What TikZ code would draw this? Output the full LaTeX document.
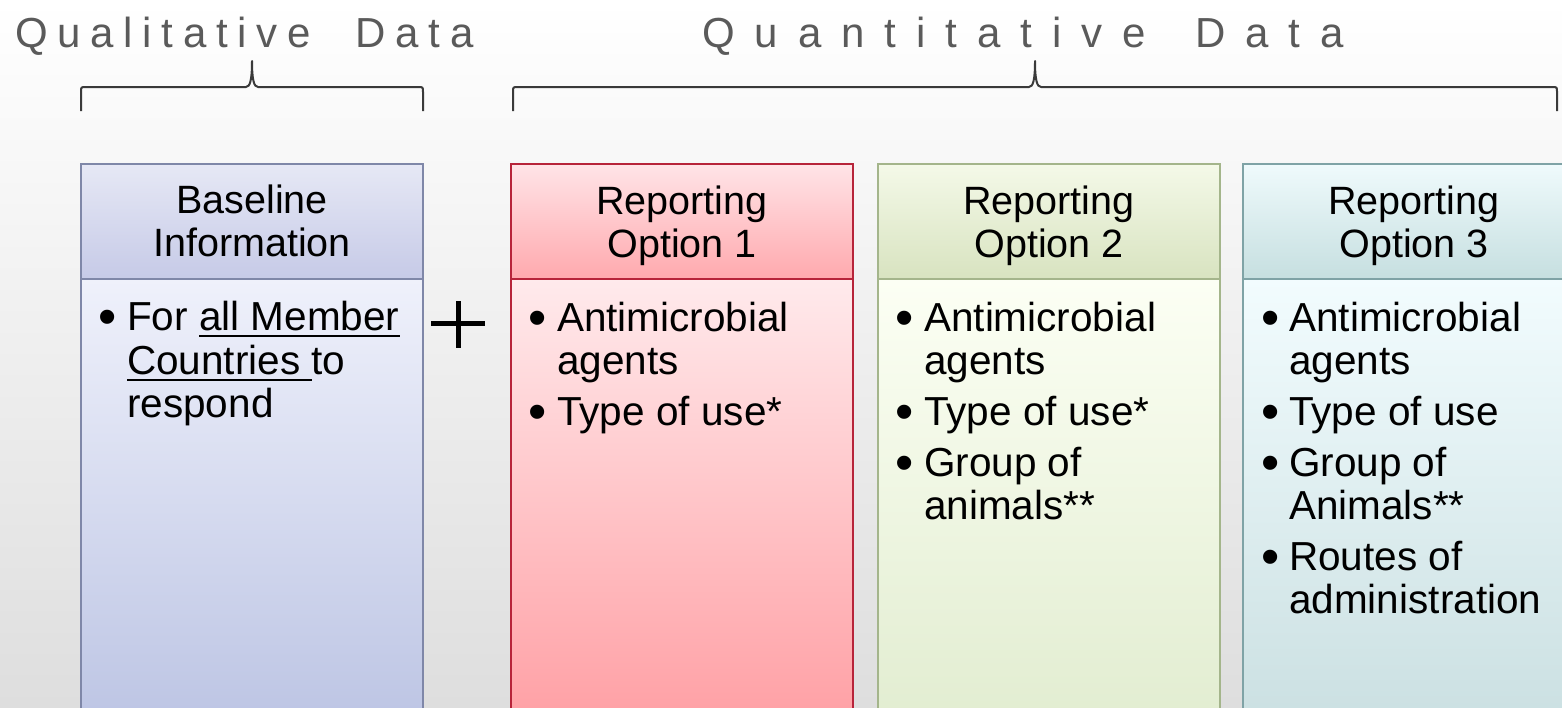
\documentclass[tikz,border=0pt]{standalone}
\usepackage{fontspec}
\setmainfont{Liberation Sans}
\definecolor{bgbot}{HTML}{DEDEDE}
\definecolor{titlegray}{HTML}{5A5A5A}
\definecolor{bracegray}{HTML}{3A3A3A}
\definecolor{aTop}{HTML}{E6E8F5}\definecolor{aBot}{HTML}{C6CAE7}
\definecolor{aBTop}{HTML}{EFF1FB}\definecolor{aBBot}{HTML}{BDC5E4}
\definecolor{aLine}{HTML}{7F87A8}
\definecolor{bTop}{HTML}{FFE4E7}\definecolor{bBot}{HTML}{FFA9AE}
\definecolor{bBTop}{HTML}{FFEAEC}\definecolor{bBBot}{HTML}{FFA0A5}
\definecolor{bLine}{HTML}{B7243A}
\definecolor{cTop}{HTML}{F4F9E8}\definecolor{cBot}{HTML}{D8E3C0}
\definecolor{cBTop}{HTML}{FCFFF4}\definecolor{cBBot}{HTML}{E2EDD1}
\definecolor{cLine}{HTML}{A4B58B}
\definecolor{dTop}{HTML}{EFFAFC}\definecolor{dBot}{HTML}{C6DFE0}
\definecolor{dBTop}{HTML}{F2FCFE}\definecolor{dBBot}{HTML}{CBE0E2}
\definecolor{dLine}{HTML}{7FA3A6}
\ExplSyntaxOn
\NewDocumentCommand\tracked{mm}{\tl_map_inline:nn{#2}{##1\kern#1}\unkern}
\ExplSyntaxOff
\newcommand\myul[1]{\setbox0\hbox{#1}\rlap{\rule[-6.5pt]{\wd0}{1.8pt}}\box0}
\begin{document}
\begin{tikzpicture}[x=1pt,y=-1pt,
  boxbase/.style={rectangle, inner sep=0pt, outer sep=0pt, line width=1.8pt, anchor=north west, minimum width=342pt},
  hdr/.style={boxbase, minimum height=115pt},
  bdy/.style={boxbase, minimum height=440pt},
  hdrtxt/.style={font=\fontsize{39.5}{43}\selectfont, text=black, inner sep=0pt, anchor=base},
  itm/.style={font=\fontsize{40.5}{43}\selectfont, text=black, inner sep=0pt, anchor=base west},
  bul/.style={font=\fontsize{52}{52}\selectfont, text=black, inner sep=0pt, anchor=base, yshift=-4pt},
  ttl/.style={font=\fontsize{42}{48}\selectfont, text=titlegray, inner sep=0pt, anchor=base west},
  brace/.style={draw=bracegray, line width=2pt, line join=round},
  plus/.style={draw=black, line width=5pt}]
\useasboundingbox (0,0) rectangle (1562,707);
\clip (0,0) rectangle (1562,707);
\shade[top color=white, bottom color=bgbot] (0,0) rectangle (1562,707);

% titles
\node[ttl] (tql) at (15,47) {\tracked{9.7pt}{Qualitative}\hspace{45pt}\tracked{9.7pt}{Data}};
\node[ttl] (tqn) at (702,47) {\tracked{20pt}{Quantitative}\hspace{49pt}\tracked{20pt}{Data}};

% braces
\coordinate (bq1) at (81,111);
\coordinate (bq2) at (423,111);
\coordinate (bn1) at (513,111);
\coordinate (bn2) at (1557,111);
\draw[brace] (bq1) -- (81,92) .. controls (81,87) .. (86,87) -- (246,87)
  .. controls (250,87) and (252,80) .. (252,61)
  .. controls (252,80) and (254,87) .. (258,87) -- (418,87)
  .. controls (423,87) .. (423,92) -- (bq2);
\draw[brace] (bn1) -- (513,92) .. controls (513,87) .. (518,87) -- (1029,87)
  .. controls (1033,87) and (1035,80) .. (1035,61)
  .. controls (1035,80) and (1037,87) .. (1041,87) -- (1552,87)
  .. controls (1557,87) .. (1557,92) -- (bn2);

% boxes
\node[bdy, draw=aLine, top color=aBTop, bottom color=aBBot] (b1) at (81,279) {};
\node[hdr, draw=aLine, top color=aTop, bottom color=aBot] (h1) at (81,164) {};
\node[bdy, draw=bLine, top color=bBTop, bottom color=bBBot] (b2) at (511,279) {};
\node[hdr, draw=bLine, top color=bTop, bottom color=bBot] (h2) at (511,164) {};
\node[bdy, draw=cLine, top color=cBTop, bottom color=cBBot] (b3) at (878,279) {};
\node[hdr, draw=cLine, top color=cTop, bottom color=cBot] (h3) at (878,164) {};
\node[bdy, draw=dLine, top color=dBTop, bottom color=dBBot] (b4) at (1243,279) {};
\node[hdr, draw=dLine, top color=dTop, bottom color=dBot] (h4) at (1243,164) {};

% header texts
\node[hdrtxt] (h1a) at (252,213) {Baseline};
\node[hdrtxt] (h1b) at (252,256) {Information};
\node[hdrtxt] (h2a) at (682,214) {Reporting};
\node[hdrtxt] (h2b) at (682,257) {Option 1};
\node[hdrtxt] (h3a) at (1049,214) {Reporting};
\node[hdrtxt] (h3b) at (1049,257) {Option 2};
\node[hdrtxt] (h4a) at (1414,214) {Reporting};
\node[hdrtxt] (h4b) at (1414,257) {Option 3};

% plus
\coordinate (pl) at (431,323.5);
\coordinate (pr) at (485,323.5);
\coordinate (pt) at (458,301);
\coordinate (pb) at (458,348);
\draw[plus] (pl) -- (pr);
\draw[plus] (pt) -- (pb);

% box 1 body
\node[bul] (u1a) at (108,330) {•};
\node[itm] (t1a) at (127,330) {For \myul{all Member}};
\node[itm] (t1b) at (127,374) {\myul{Countries\ }to};
\node[itm] (t1c) at (127,417) {respond};

% box 2 body
\node[bul] (u2a) at (538,331) {•};
\node[itm] (t2a) at (557,331) {Antimicrobial};
\node[itm] (t2b) at (557,374) {agents};
\node[bul] (u2c) at (538,425) {•};
\node[itm] (t2c) at (557,425) {Type of use*};

% box 3 body
\node[bul] (u3a) at (905,331) {•};
\node[itm] (t3a) at (924,331) {Antimicrobial};
\node[itm] (t3b) at (924,374) {agents};
\node[bul] (u3c) at (905,425) {•};
\node[itm] (t3c) at (924,425) {Type of use*};
\node[bul] (u3d) at (905,476) {•};
\node[itm] (t3d) at (924,476) {Group of};
\node[itm] (t3e) at (924,519) {animals**};

% box 4 body
\node[bul] (u4a) at (1271,331) {•};
\node[itm] (t4a) at (1289,331) {Antimicrobial};
\node[itm] (t4b) at (1289,374) {agents};
\node[bul] (u4c) at (1271,425) {•};
\node[itm] (t4c) at (1289,425) {Type of use};
\node[bul] (u4d) at (1271,476) {•};
\node[itm] (t4d) at (1289,476) {Group of};
\node[itm] (t4e) at (1289,519) {Animals**};
\node[bul] (u4f) at (1271,570) {•};
\node[itm] (t4f) at (1289,570) {Routes of};
\node[itm] (t4g) at (1289,613) {administration};
\end{tikzpicture}
\end{document}
